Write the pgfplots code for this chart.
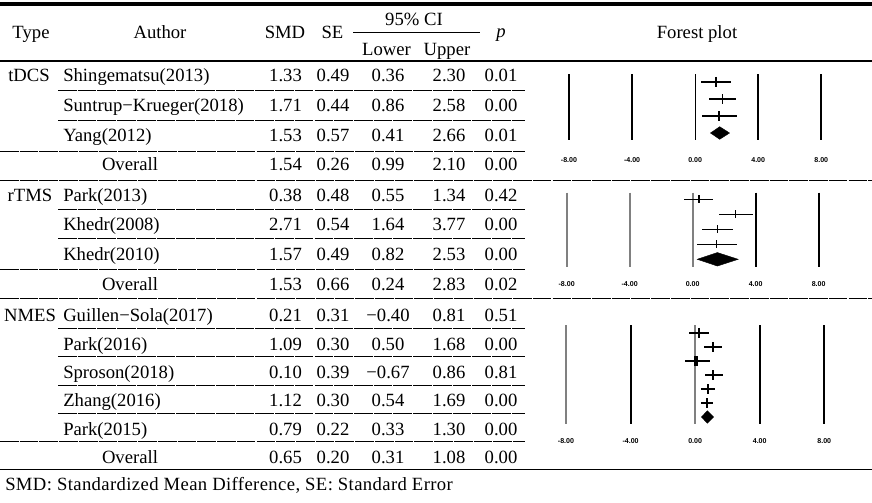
\documentclass[border=0pt]{standalone}
\usepackage{fontspec}
\setmainfont{Liberation Serif}
\newfontfamily\labfont{Liberation Sans}
\usepackage{pgfplots}
\pgfplotsset{compat=1.18}
\pgfplotsset{
  forest/.style={
    scale only axis, enlargelimits=false, y dir=reverse, clip=false,
    axis line style={draw=none}, major tick length=0pt, tick style={draw=none},
    ytick=\empty, xmin=-8, xmax=8,
    xtick={-8,-4,0,4,8}, xticklabels={-8.00,-4.00,0.00,4.00,8.00},
    xticklabel style={font=\labfont\bfseries\fontsize{5.3}{6}\selectfont, anchor=center, text=black},
  },
  refline/.style={line width=1.5pt, no marks},
}
\tikzset{
  rowrule/.style={line width=0.6pt, dash pattern=on 14pt off 0.8pt},
  t/.style={anchor=base, inner sep=0pt},
}
\begin{document}
\begin{tikzpicture}
\useasboundingbox (0,0) rectangle (654pt,-377.25pt);
\begin{scope}[x=0.75pt,y=-0.75pt, font=\fontsize{14}{16}\selectfont]
% rules
\draw[line width=3pt] (0,3.7) -- (872,3.7);
\draw[line width=0.9pt] (0,61) -- (872,61);
\draw[line width=0.9pt] (0,469.3) -- (872,469.3);
\draw[line width=0.8pt] (353,32.7) -- (480,32.7);
\foreach \yy in {90,120.7,209.3,238.3,328.3,356.7,385,413.3} \draw[rowrule] (58,\yy) -- (525,\yy);
\foreach \yy in {151.7,269,441.7} \draw[rowrule] (0,\yy) -- (525,\yy);
\foreach \yy in {180,298.3} \draw[rowrule] (0,\yy) -- (872,\yy);
% header
\node[t] at (31,39) {Type};
\node[t] at (160,39) {Author};
\node[t] at (285,39) {SMD};
\node[t] at (332.5,39) {SE};
\node[t] at (414,26) {95\% CI};
\node[t] at (386.5,55.5) {Lower};
\node[t] at (447,55.5) {Upper};
\node[t] at (501,38) {\textit{p}};
\node[t] at (697,39) {Forest plot};
% type labels
\node[t] at (29,81.5) {tDCS};
\node[t] at (30,201.5) {rTMS};
\node[t] at (30,321) {NMES};
% rows
\foreach \yy/\au/\a/\b/\c/\d/\e in {
  81.5/Shingematsu(2013)/1.33/0.49/0.36/2.30/0.01,
  111.5/Suntrup−Krueger(2018)/1.71/0.44/0.86/2.58/0.00,
  141.5/Yang(2012)/1.53/0.57/0.41/2.66/0.01,
  201.5/Park(2013)/0.38/0.48/0.55/1.34/0.42,
  230.5/Khedr(2008)/2.71/0.54/1.64/3.77/0.00,
  260/Khedr(2010)/1.57/0.49/0.82/2.53/0.00,
  321/Guillen−Sola(2017)/0.21/0.31/−0.40/0.81/0.51,
  350/Park(2016)/1.09/0.30/0.50/1.68/0.00,
  378.5/Sproson(2018)/0.10/0.39/−0.67/0.86/0.81,
  406.5/Zhang(2016)/1.12/0.30/0.54/1.69/0.00,
  435/Park(2015)/0.79/0.22/0.33/1.30/0.00}{
  \node[t, anchor=base west] at (63,\yy) {\au};
  \node[t] at (285.5,\yy) {\a};
  \node[t] at (333,\yy) {\b};
  \node[t] at (388,\yy) {\c};
  \node[t] at (449,\yy) {\d};
  \node[t] at (501,\yy) {\e};
}
\foreach \yy/\a/\b/\c/\d/\e in {
  171/1.54/0.26/0.99/2.10/0.00,
  290.5/1.53/0.66/0.24/2.83/0.02,
  463/0.65/0.20/0.31/1.08/0.00}{
  \node[t] at (130,\yy) {Overall};
  \node[t] at (285.5,\yy) {\a};
  \node[t] at (333,\yy) {\b};
  \node[t] at (388,\yy) {\c};
  \node[t] at (449,\yy) {\d};
  \node[t] at (501,\yy) {\e};
}
\node[t, anchor=base west] at (5,490) {\addfontfeature{LetterSpace=2}SMD: Standardized Mean Difference, SE: Standard Error};
\end{scope}

% ---------- Panel 1: tDCS ----------
\begin{axis}[forest, at={(426.75pt,-106.125pt)}, anchor=south west,
  width=189.2pt, height=51pt, ymin=0.5, ymax=4.5,
  xticklabel style={yshift=-13.9pt}]
\addplot[refline, black] coordinates {(-8,0.53) (-8,4.41)};
\addplot[refline, black] coordinates {(-4,0.53) (-4,4.41)};
\addplot[black, line width=0.9pt, no marks] coordinates {(0,0.53) (0,4.41)};
\addplot[refline, black] coordinates {(4,0.53) (4,4.41)};
\addplot[refline, black] coordinates {(8,0.53) (8,4.41)};
\addplot[black, only marks, mark=|, mark size=3.75pt, mark options={line width=1.2pt},
  error bars/.cd, x dir=both, x explicit, error mark=none, error bar style={line width=1.2pt}]
  table[x=est, y=row, x error plus expr=\thisrow{hi}-\thisrow{est}, x error minus expr=\thisrow{est}-\thisrow{lo}] {
row est lo hi
1 1.33 0.38 2.30
2 1.73 0.91 2.58
3 1.52 0.42 2.64
};
\addplot[fill=black, draw=black, line width=0.3pt] coordinates {(0.97,4) (1.56,3.63) (2.18,4) (1.56,4.37)} --cycle;
\end{axis}

% ---------- Panel 2: rTMS ----------
\begin{axis}[forest, at={(425pt,-200.1pt)}, anchor=south west,
  width=189pt, height=56.25pt, ymin=0.5, ymax=5.5,
  xticklabel style={yshift=-13.1pt}]
\addplot[refline, gray] coordinates {(-8,0.56) (-8,5.5)};
\addplot[refline, gray] coordinates {(-4,0.56) (-4,5.5)};
\addplot[refline, gray] coordinates {(0,0.56) (0,5.5)};
\addplot[refline, black] coordinates {(4,0.56) (4,5.5)};
\addplot[refline, black] coordinates {(8,0.56) (8,5.5)};
\addplot[black, only marks, mark=|, mark size=3pt, mark options={line width=1pt},
  error bars/.cd, x dir=both, x explicit, error mark=none, error bar style={line width=1pt}]
  table[x=est, y=row, x error plus expr=\thisrow{hi}-\thisrow{est}, x error minus expr=\thisrow{est}-\thisrow{lo}] {
row est lo hi
1 0.40 -0.53 1.31
2 2.73 1.67 3.80
3 1.59 0.62 2.54
4 1.53 0.29 2.83
};
\addplot[black, only marks, mark=|, mark size=2.8pt, mark options={line width=2pt}] coordinates {(0.40,1)};
\addplot[fill=black, draw=black, line width=0.3pt] coordinates {(0.29,5) (1.57,4.55) (2.89,5) (1.57,5.45)} --cycle;
\end{axis}

% ---------- Panel 3: NMES ----------
\begin{axis}[forest, at={(424.5pt,-318pt)}, anchor=south west,
  width=193.7pt, height=73.5pt, ymin=0.5, ymax=7.5,
  xticklabel style={yshift=-12.75pt}]
\addplot[refline, gray] coordinates {(-8,0.45) (-8,7.5)};
\addplot[refline, black] coordinates {(-4,0.45) (-4,7.5)};
\addplot[refline, gray] coordinates {(0,0.45) (0,7.5)};
\addplot[refline, black] coordinates {(4,0.45) (4,7.5)};
\addplot[refline, black] coordinates {(8,0.45) (8,7.5)};
\addplot[black, only marks, mark=|, mark size=3.75pt, mark options={line width=1.4pt},
  error bars/.cd, x dir=both, x explicit, error mark=none, error bar style={line width=1.5pt}]
  table[x=est, y=row, x error plus expr=\thisrow{hi}-\thisrow{est}, x error minus expr=\thisrow{est}-\thisrow{lo}] {
row est lo hi
1 0.23 -0.40 0.84
2 1.11 0.53 1.68
3 0.08 -0.64 0.90
4 1.12 0.58 1.72
5 0.80 0.37 1.26
6 0.72 0.38 1.08
};
\addplot[black, only marks, mark=|, mark size=3.6pt, mark options={line width=3pt}] coordinates {(0.08,3)};
\addplot[black, only marks, mark=|, mark size=3.9pt, mark options={line width=2pt}] coordinates {(0.23,1)};
\addplot[fill=black, draw=black, line width=0.3pt] coordinates {(0.39,7) (0.76,6.55) (1.15,7) (0.76,7.45)} --cycle;
\end{axis}
\end{tikzpicture}
\end{document}
